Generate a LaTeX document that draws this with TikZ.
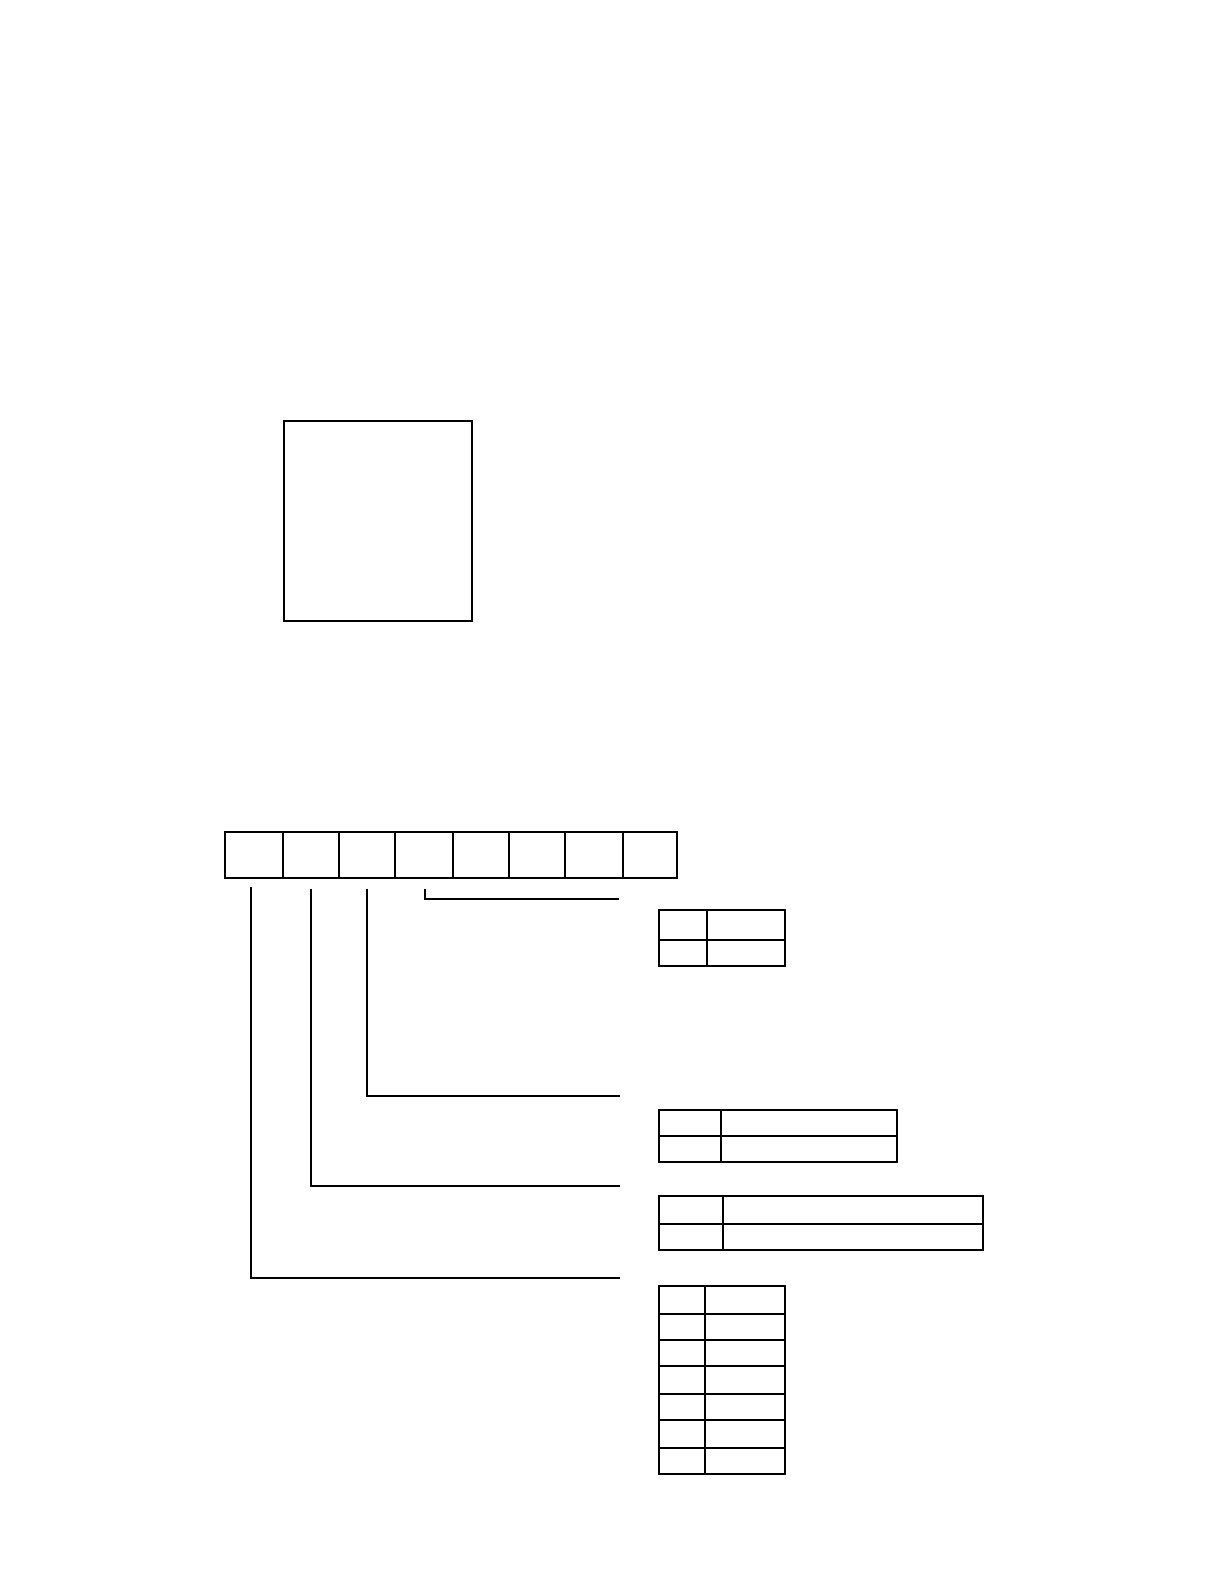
\documentclass[tikz,border=0pt]{standalone}
\usetikzlibrary{calc}
\tikzset{
  ln/.style={line width=2.3pt, line cap=rect},
  cellbox/.style={draw, line width=2.3pt, inner sep=0pt, outer sep=0pt, anchor=north west},
}
\newcommand\mkcell[5]{%
  \pgfmathsetmacro\cw{#4-#2}\pgfmathsetmacro\ch{#5-#3}%
  \node[cellbox, minimum width=\cw pt, minimum height=\ch pt] (#1) at (#2,#3) {};}
\begin{document}
\begin{tikzpicture}[x=1pt,y=-1pt]
\useasboundingbox (0,0) rectangle (1224,1584);
% big box
\mkcell{big}{283.7}{421}{472}{620.7}
% register
\mkcell{r1}{225}{832}{283}{878}
\mkcell{r2}{283}{832}{339}{878}
\mkcell{r3}{339}{832}{395}{878}
\mkcell{r4}{395}{832}{453}{878}
\mkcell{r5}{453}{832}{509}{878}
\mkcell{r6}{509}{832}{565}{878}
\mkcell{r7}{565}{832}{623}{878}
\mkcell{r8}{623}{832}{677.3}{878}
% table 1
\mkcell{ta11}{659}{910}{706.7}{940}
\mkcell{ta12}{706.7}{910}{785}{940}
\mkcell{ta21}{659}{940}{706.7}{966}
\mkcell{ta22}{706.7}{940}{785}{966}
% table 2
\mkcell{tb11}{659}{1110}{720.7}{1136}
\mkcell{tb12}{720.7}{1110}{897}{1136}
\mkcell{tb21}{659}{1136}{720.7}{1161.7}
\mkcell{tb22}{720.7}{1136}{897}{1161.7}
% table 3
\mkcell{tc11}{659}{1196}{722.7}{1223.7}
\mkcell{tc12}{722.7}{1196}{983}{1223.7}
\mkcell{tc21}{659}{1223.7}{722.7}{1249.7}
\mkcell{tc22}{722.7}{1223.7}{983}{1249.7}
% table 4
\mkcell{td11}{659}{1285.7}{704.7}{1313.7}\mkcell{td12}{704.7}{1285.7}{785}{1313.7}
\mkcell{td21}{659}{1313.7}{704.7}{1340}\mkcell{td22}{704.7}{1313.7}{785}{1340}
\mkcell{td31}{659}{1340}{704.7}{1366}\mkcell{td32}{704.7}{1340}{785}{1366}
\mkcell{td41}{659}{1366}{704.7}{1394}\mkcell{td42}{704.7}{1366}{785}{1394}
\mkcell{td51}{659}{1394}{704.7}{1420.3}\mkcell{td52}{704.7}{1394}{785}{1420.3}
\mkcell{td61}{659}{1420.3}{704.7}{1448}\mkcell{td62}{704.7}{1420.3}{785}{1448}
\mkcell{td71}{659}{1448}{704.7}{1473.7}\mkcell{td72}{704.7}{1448}{785}{1473.7}
% connectors
\coordinate (s1) at (251,887);   \coordinate (e1) at (620,1278);
\coordinate (s2) at (311,889);   \coordinate (e2) at (620,1186);
\coordinate (s3) at (366.7,889); \coordinate (e3) at (620,1095.7);
\coordinate (s4) at (425,889);   \coordinate (e4) at (619.3,899.3);
\draw[ln, line cap=butt] (s1) |- (e1);
\draw[ln, line cap=butt] (s2) |- (e2);
\draw[ln, line cap=butt] (s3) |- (e3);
\draw[ln, line cap=butt] (s4) |- (e4);
\end{tikzpicture}
\end{document}
